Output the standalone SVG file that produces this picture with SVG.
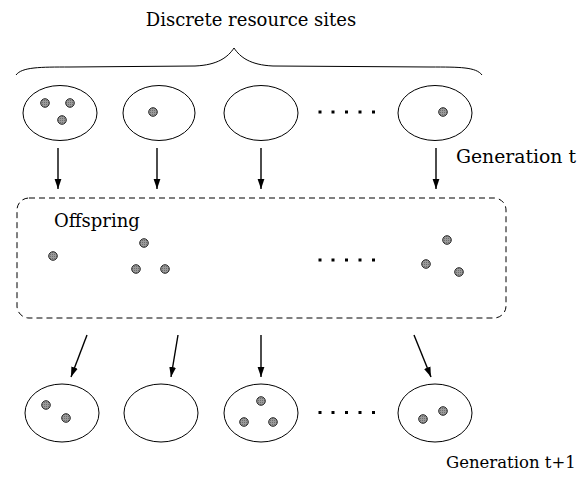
<svg xmlns="http://www.w3.org/2000/svg" width="582" height="477" viewBox="0 0 582 477">
  <defs>
    <marker id="head" markerWidth="11" markerHeight="8" refX="10" refY="4" orient="auto" markerUnits="userSpaceOnUse">
      <path d="M0,0.6 L10,4 L0,7.4 Z" fill="#000"/>
    </marker>
    <pattern id="grain" width="2" height="2" patternUnits="userSpaceOnUse">
      <rect width="2" height="2" fill="#9a9a9a"/>
      <rect width="1" height="1" fill="#6e6e6e"/>
    </pattern>
  </defs>
  <style>
    .site { fill: #fff; stroke: #000; stroke-width: 1; }
    .ind { fill: url(#grain); stroke: #2a2a2a; stroke-width: 1; }
    .dots rect { fill: #000; }
    .lbl { font-family: "DejaVu Serif", "Liberation Serif", serif; font-size: 18px; fill: #000; }
    .arr { stroke: #000; stroke-width: 1.4; fill: none; marker-end: url(#head); }
    .pool { fill: none; stroke: #000; stroke-width: 1; stroke-dasharray: 6 4; }
  </style>

  <!-- heading and brace over the sites -->
  <text class="lbl" x="251" y="26" text-anchor="middle">Discrete resource sites</text>
  <path d="M16,75 C22,67 40,67 70,67 L195,66 C218,65 228,57 234,48 C240,57 250,65 273,66 L430,67 C460,67 476,67 482,75" fill="none" stroke="#000" stroke-width="1"/>

  <!-- generation t -->
  <g id="site-t1"><ellipse class="site" cx="60" cy="113" rx="37" ry="27.5"/>
    <circle class="ind" cx="45" cy="103" r="4.3"/><circle class="ind" cx="70" cy="103" r="4.3"/><circle class="ind" cx="62" cy="120" r="4.3"/></g>
  <g id="site-t2"><ellipse class="site" cx="159" cy="113" rx="36" ry="27.5"/>
    <circle class="ind" cx="153" cy="112" r="4.3"/></g>
  <g id="site-t3"><ellipse class="site" cx="261" cy="113" rx="37" ry="27.5"/></g>
  <g id="gap-t" class="dots"><rect x="318.5" y="110.5" width="3" height="3"/><rect x="331.5" y="110.5" width="3" height="3"/><rect x="345" y="110.5" width="3" height="3"/><rect x="358.5" y="110.5" width="3" height="3"/><rect x="372" y="110.5" width="3" height="3"/></g>
  <g id="site-tn"><ellipse class="site" cx="435" cy="113" rx="37" ry="27.5"/>
    <circle class="ind" cx="443" cy="112" r="4.3"/></g>
  <text class="lbl" x="456" y="163" textLength="120" lengthAdjust="spacingAndGlyphs">Generation t</text>

  <!-- offspring pool -->
  <g id="offspring">
    <rect class="pool" x="17" y="198" width="489" height="120" rx="12"/>
    <text class="lbl" x="54" y="227">Offspring</text>
    <circle class="ind" cx="53" cy="256" r="4.3"/>
    <circle class="ind" cx="144" cy="243" r="4.3"/><circle class="ind" cx="136" cy="269" r="4.3"/><circle class="ind" cx="165" cy="269" r="4.3"/>
    <g class="dots"><rect x="318.5" y="258.5" width="3" height="3"/><rect x="331.5" y="258.5" width="3" height="3"/><rect x="345" y="258.5" width="3" height="3"/><rect x="358.5" y="258.5" width="3" height="3"/><rect x="372" y="258.5" width="3" height="3"/></g>
    <circle class="ind" cx="447" cy="240" r="4.3"/><circle class="ind" cx="426" cy="264" r="4.3"/><circle class="ind" cx="459" cy="272" r="4.3"/>
  </g>

  <!-- generation t+1 -->
  <g id="site-n1"><ellipse class="site" cx="62" cy="413" rx="37" ry="29"/>
    <circle class="ind" cx="46" cy="405" r="4.3"/><circle class="ind" cx="66" cy="418" r="4.3"/></g>
  <g id="site-n2"><ellipse class="site" cx="161" cy="413" rx="37" ry="29"/></g>
  <g id="site-n3"><ellipse class="site" cx="261" cy="413" rx="37" ry="29"/>
    <circle class="ind" cx="261" cy="401" r="4.3"/><circle class="ind" cx="244" cy="422" r="4.3"/><circle class="ind" cx="273" cy="422" r="4.3"/></g>
  <g id="gap-n" class="dots"><rect x="318.5" y="411" width="3" height="3"/><rect x="331.5" y="411" width="3" height="3"/><rect x="345" y="411" width="3" height="3"/><rect x="358.5" y="411" width="3" height="3"/><rect x="372" y="411" width="3" height="3"/></g>
  <g id="site-nn"><ellipse class="site" cx="435" cy="413" rx="37" ry="29"/>
    <circle class="ind" cx="423" cy="419" r="4.3"/><circle class="ind" cx="443" cy="411" r="4.3"/></g>
  <text class="lbl" x="446" y="468" style="font-size:16.5px">Generation t+1</text>

  <!-- connectors -->
  <g id="connectors">
    <line class="arr" x1="58" y1="148" x2="58" y2="189"/>
    <line class="arr" x1="157" y1="148" x2="157" y2="189"/>
    <line class="arr" x1="261" y1="148" x2="261" y2="189"/>
    <line class="arr" x1="436" y1="148" x2="436" y2="189"/>
    <line class="arr" x1="87" y1="335" x2="71" y2="377"/>
    <line class="arr" x1="178" y1="335" x2="171" y2="377"/>
    <line class="arr" x1="261" y1="335" x2="261" y2="377"/>
    <line class="arr" x1="414" y1="335" x2="431" y2="377"/>
  </g>
</svg>
